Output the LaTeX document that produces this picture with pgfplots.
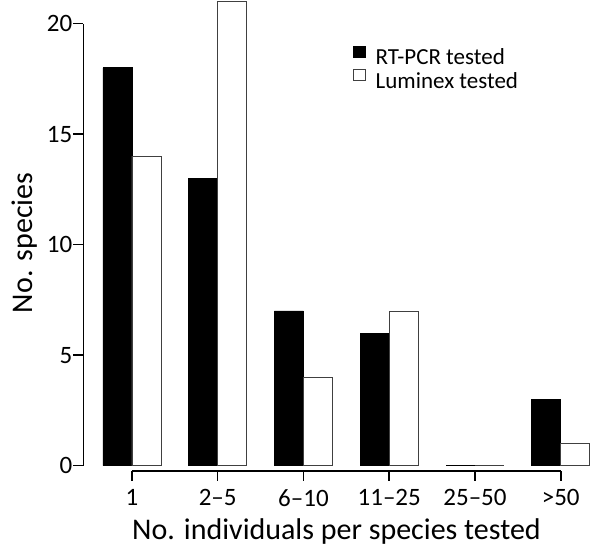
\documentclass[border=0pt]{standalone}
\usepackage{fontspec}
\setmainfont{Carlito}
\usepackage{pgfplots}
\pgfplotsset{compat=1.18}
\begin{document}
\begin{tikzpicture}
\useasboundingbox (-83.5pt,-77pt) rectangle (516.5pt,471pt);
\begin{axis}[
  at={(0pt,0pt)}, anchor=south west,
  scale only axis, width=506pt, height=469.5pt,
  xmin=-0.565, xmax=5.335, ymin=-0.24, ymax=21,
  ybar, bar width=0.338,
  axis x line*=bottom, axis y line*=left,
  axis line style={draw=none},
  tick align=outside, major tick length=10pt,
  tick style={black, line width=1.5pt},
  xtick={0,1,2,3,4,5},
  xticklabels={1,2--5,6--10,11--25,25--50,>50},
  ytick={0,5,10,15,20},
  /pgf/number format/assume math mode=true,
  ticklabel style={font=\fontsize{25}{30}\selectfont},
  yticklabel style={inner sep=1pt},
  xticklabel style={inner sep=1pt, yshift=-7pt},
  xlabel={No. individuals per species tested},
  ylabel={No. species},
  label style={font=\fontsize{30}{36}\selectfont},
  xlabel style={at={(axis description cs:0.5,-0.145)}, anchor=base},
  ylabel style={at={(axis description cs:-0.1008,0.486)}, anchor=base},
  legend style={at={(axis description cs:0.533,0.905)}, anchor=north west,
    draw=none, fill=none, font=\fontsize{23}{26}\selectfont,
    row sep=1.5pt, inner sep=0pt,
    nodes={inner sep=1.5pt},
    /tikz/every odd column/.append style={column sep=8pt}},
  legend image code/.code={\draw[#1,line width=0.8pt] (0pt,0pt) rectangle (12pt,11pt);},
  legend cell align=left,
  clip=false,
]
\addplot[fill=black, draw=black, line width=0.8pt, bar shift=-0.169]
  coordinates {(0,18) (1,13) (2,7) (3,6) (4,0) (5,3)};
\addplot[fill=white, draw=black!75, line width=0.8pt, bar shift=0.169]
  coordinates {(0,14) (1,21) (2,4) (3,7) (4,0) (5,1)};
\legend{RT-PCR tested, Luminex tested}
\draw[line width=1.5pt] (axis cs:-0.565,0) -- (axis cs:-0.565,20);
\draw[line width=1.5pt] (axis cs:0,-0.24) -- (axis cs:5,-0.24);
\end{axis}
\end{tikzpicture}
\end{document}
